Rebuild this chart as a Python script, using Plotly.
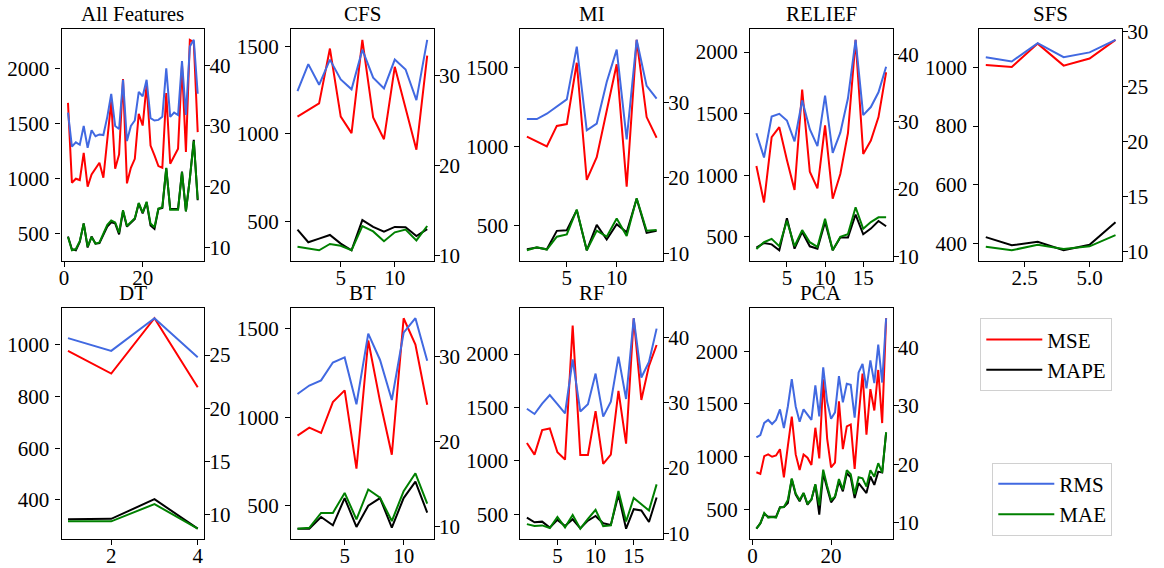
import plotly.graph_objects as go

# ---- data: per feature-selection method, metric values vs. number of features ----
titles = ["All Features", "CFS", "MI", "RELIEF", "SFS", "DT", "BT", "RF", "PCA"]

all_mse = [1686, 960, 996, 984, 1232, 923, 1035, 1087, 1141, 1005, 1330, 1700, 1087, 1217, 1903, 954, 1096,
           1177, 1586, 1480, 1852, 1298, 1208, 1111, 1096, 1776, 1132, 1196, 1270, 2030, 1240, 2260, 2240, 1420]
all_mape = [470, 355, 345, 420, 590, 370, 470, 405, 410, 490, 560, 600, 590, 490, 700, 560, 600,
            630, 770, 680, 780, 570, 540, 720, 730, 1090, 720, 720, 720, 1060, 700, 1000, 1350, 800]
all_rms = [32.2, 26.6, 27.3, 26.9, 30.0, 26.4, 29.3, 28.3, 28.6, 28.5, 31.5, 35.3, 30.0, 29.5, 37.6, 27.5, 30.0,
           30.9, 35.6, 34.9, 37.6, 31.3, 30.9, 31.0, 31.5, 39.5, 31.5, 32.2, 31.8, 40.7, 31.8, 43.1, 44.2, 35.3]
all_mae = [11.7, 9.5, 9.7, 11.0, 13.9, 10.1, 11.7, 10.6, 10.8, 12.4, 13.7, 14.4, 14.1, 12.4, 16.1, 13.5, 14.2,
           14.8, 17.3, 15.7, 17.5, 13.9, 13.3, 16.4, 16.6, 23.1, 16.2, 16.2, 16.2, 22.4, 15.9, 21.3, 27.5, 17.9]

cfs_mse = [1100, 1140, 1175, 1490, 1100, 1005, 1540, 1095, 970, 1385, 1145, 910, 1450]
cfs_mape = [452, 379, 400, 421, 371, 333, 506, 467, 440, 467, 465, 415, 454]
cfs_rms = [28.3, 31.3, 29.0, 31.8, 29.6, 28.5, 32.9, 29.8, 28.6, 31.8, 30.7, 27.3, 34.0]
cfs_mae = [11.0, 10.8, 10.6, 11.3, 11.1, 10.6, 13.3, 12.7, 11.6, 12.6, 12.9, 11.7, 13.3]

mi_mse = [1063, 1030, 1000, 1130, 1142, 1530, 788, 932, 1230, 1520, 746, 1675, 1186, 1055]
mi_mape = [349, 360, 349, 466, 470, 597, 343, 504, 411, 508, 457, 669, 453, 466]
mi_rms = [27.8, 27.8, 28.5, 29.5, 30.4, 37.4, 26.3, 27.2, 32.7, 37.0, 25.1, 38.3, 32.2, 30.5]
mi_mae = [10.4, 10.8, 10.5, 12.2, 12.5, 15.8, 10.4, 13.0, 12.2, 14.6, 12.3, 17.3, 13.0, 13.1]

relief_mse = [1076, 780, 1310, 1391, 1125, 881, 1696, 1030, 894, 1405, 810, 1011, 1342, 2100, 1174, 1283, 1473, 1837]
relief_mape = [413, 451, 440, 392, 652, 405, 541, 424, 405, 622, 392, 495, 495, 682, 522, 568, 630, 587]
relief_rms = [28.3, 24.7, 30.8, 31.2, 30.2, 27.1, 33.2, 28.9, 26.4, 33.9, 25.4, 28.4, 33.5, 42.2, 31.0, 32.2, 34.4, 38.2]
relief_mae = [11.1, 12.1, 12.6, 11.5, 15.3, 11.5, 13.9, 12.1, 11.4, 15.6, 10.9, 12.9, 13.3, 17.3, 14.1, 15.1, 15.8, 15.8]

sfs_mse = [1008, 1001, 1081, 1006, 1030, 1094]
sfs_mape = [421, 393, 405, 376, 395, 472]
sfs_rms = [27.65, 27.26, 28.92, 27.65, 28.08, 29.22]
sfs_mae = [10.48, 10.15, 10.66, 10.27, 10.51, 11.53]

dt_mse = [977, 889, 1103, 836]
dt_mape = [325, 327, 403, 289]
dt_rms = [26.6, 25.4, 28.47, 24.8]
dt_mae = [9.38, 9.38, 11.0, 8.69]

bt_mse = [896, 941, 911, 1086, 1152, 709, 1434, 1090, 788, 1560, 1411, 1071]
bt_mape = [370, 370, 436, 389, 543, 380, 500, 543, 376, 543, 636, 461]
bt_rms = [25.6, 26.6, 27.2, 29.3, 29.9, 24.4, 32.7, 29.6, 24.9, 32.8, 34.5, 29.5]
bt_mae = [9.8, 9.9, 11.65, 11.65, 14.0, 10.9, 14.4, 13.45, 10.7, 14.2, 16.3, 12.75]

rf_mse = [1168, 1059, 1288, 1303, 1081, 1012, 2267, 1055, 1055, 1466, 971, 1059, 1655, 1162, 2336, 1570, 1890, 2085]
rf_mape = [469, 425, 431, 375, 447, 390, 453, 368, 440, 484, 415, 400, 682, 365, 547, 535, 428, 657]
rf_rms = [29.1, 28.3, 29.9, 31.2, 29.8, 28.4, 36.7, 28.7, 29.8, 34.5, 27.9, 30.2, 37.1, 30.6, 43.0, 33.9, 36.3, 41.4]
rf_mae = [11.4, 11.1, 11.2, 10.8, 12.5, 10.9, 12.8, 10.7, 12.2, 13.6, 11.1, 11.2, 16.5, 11.8, 15.4, 14.5, 13.5, 17.5]

pca_mse = [853, 838, 1006, 1022, 1000, 1012, 1072, 806, 1100, 1381, 1022, 875, 1022, 991, 922, 1275, 984,
           1734, 1172, 900, 944, 1525, 1072, 1288, 1306, 884, 1375, 1788, 1209, 1641, 1438, 1822, 1319, 2312]
pca_mape = [319, 369, 459, 431, 431, 431, 522, 525, 562, 787, 641, 578, 656, 547, 594, 734, 453,
            844, 703, 569, 619, 766, 672, 844, 806, 609, 750, 703, 656, 813, 734, 859, 850, 1225]
pca_rms = [24.6, 25.0, 27.1, 27.6, 26.9, 27.6, 29.4, 26.2, 29.9, 34.6, 29.9, 27.3, 29.4, 28.6, 27.6, 33.5, 28.2,
           36.6, 30.7, 27.8, 28.9, 35.1, 30.6, 33.8, 33.6, 28.0, 35.7, 37.2, 33.0, 37.8, 33.9, 40.5, 34.0, 45.0]
pca_mae = [9.0, 9.9, 11.7, 10.9, 11.0, 10.9, 12.6, 12.7, 13.9, 17.6, 15.0, 13.9, 15.1, 13.3, 14.0, 16.6, 13.0,
           19.1, 16.3, 13.9, 14.5, 17.5, 15.7, 19.0, 18.3, 14.9, 17.8, 17.6, 16.2, 19.0, 17.9, 20.2, 18.6, 25.5]

# tick spacing per panel: (x step, left-axis step, right-axis step)
tick_steps = [(20, 500, 10), (5, 500, 10), (5, 500, 10), (5, 500, 10), (2.5, 200, 5),
              (2, 200, 5), (5, 500, 10), (5, 500, 10), (20, 500, 10)]

panels = [
    (all_mse, all_mape, all_rms, all_mae),
    (cfs_mse, cfs_mape, cfs_rms, cfs_mae),
    (mi_mse, mi_mape, mi_rms, mi_mae),
    (relief_mse, relief_mape, relief_rms, relief_mae),
    (sfs_mse, sfs_mape, sfs_rms, sfs_mae),
    (dt_mse, dt_mape, dt_rms, dt_mae),
    (bt_mse, bt_mape, bt_rms, bt_mae),
    (rf_mse, rf_mape, rf_rms, rf_mae),
    (pca_mse, pca_mape, pca_rms, pca_mae),
]

# ---- layout geometry (pixels) ----
W, H = 1164, 568
col_left = [61.5, 291.0, 520.4, 749.9, 979.3]
axes_w = 142.7
row_top = [29.3, 307.7]
axes_h = 231.5
FONT = "Liberation Serif"
FS = 21

C_MSE, C_MAPE, C_RMS, C_MAE = "red", "black", "royalblue", "green"
LW = 2.0


def padded(vals, frac=0.05):
    lo, hi = min(vals), max(vals)
    span = hi - lo
    return [lo - frac * span, hi + frac * span]


fig = go.Figure()
layout = dict(
    width=W, height=H,
    margin=dict(l=0, r=0, t=0, b=0, pad=0, autoexpand=False),
    paper_bgcolor="white", plot_bgcolor="white",
    font=dict(family=FONT, size=FS, color="black"),
    showlegend=True,
)
annotations = []

axis_common = dict(
    showgrid=False, zeroline=False, showline=True, linecolor="black", linewidth=1.1,
    ticks="outside", ticklen=5, tickwidth=1.1, tickcolor="black", automargin=False,
    tickfont=dict(family=FONT, size=FS, color="black"),
)

for k, (title, data, steps) in enumerate(zip(titles, panels, tick_steps)):
    row, col = divmod(k, 5)
    x0 = col_left[col] / W
    x1 = (col_left[col] + axes_w) / W
    y1 = 1 - row_top[row] / H
    y0 = 1 - (row_top[row] + axes_h) / H

    mse, mape, rms, mae = data
    n = len(mse)
    xs = list(range(1, n + 1))
    xstep, lstep, rstep = steps

    xa = f"xaxis{k + 1}" if k else "xaxis"
    yl = f"yaxis{2 * k + 1}" if k else "yaxis"
    yr = f"yaxis{2 * k + 2}"
    xref = f"x{k + 1}" if k else "x"
    ylref = f"y{2 * k + 1}" if k else "y"
    yrref = f"y{2 * k + 2}"

    layout[xa] = dict(axis_common, domain=[x0, x1], anchor=ylref, mirror=True,
                      range=[1 - 0.05 * (n - 1), n + 0.05 * (n - 1)],
                      tickmode="linear", tick0=0, dtick=xstep,
                      tickformat=".1f" if xstep == 2.5 else "d",
                      ticklabelstandoff=-7)
    layout[yl] = dict(axis_common, domain=[y0, y1], anchor=xref, mirror=True,
                      range=padded(mse + mape), tickmode="linear", tick0=0, dtick=lstep,
                      ticklabelstandoff=2)
    layout[yr] = dict(axis_common, overlaying=ylref, side="right", anchor=xref,
                      range=padded(rms + mae), tickmode="linear", tick0=0, dtick=rstep,
                      ticklabelstandoff=-5)

    first = k == 0
    fig.add_trace(go.Scatter(x=xs, y=mse, mode="lines", name="MSE", line=dict(color=C_MSE, width=LW),
                             xaxis=xref, yaxis=ylref, showlegend=first, legend="legend"))
    fig.add_trace(go.Scatter(x=xs, y=mape, mode="lines", name="MAPE", line=dict(color=C_MAPE, width=LW),
                             xaxis=xref, yaxis=ylref, showlegend=first, legend="legend"))
    fig.add_trace(go.Scatter(x=xs, y=rms, mode="lines", name="RMS", line=dict(color=C_RMS, width=LW),
                             xaxis=xref, yaxis=yrref, showlegend=first, legend="legend2"))
    fig.add_trace(go.Scatter(x=xs, y=mae, mode="lines", name="MAE", line=dict(color=C_MAE, width=LW),
                             xaxis=xref, yaxis=yrref, showlegend=first, legend="legend2"))

    annotations.append(dict(text=title, x=(x0 + x1) / 2, y=y1, xref="paper", yref="paper",
                            xanchor="center", yanchor="bottom", yshift=1, showarrow=False,
                            font=dict(family=FONT, size=FS, color="black")))

legend_style = dict(
    bgcolor="white", bordercolor="#d0d0d0", borderwidth=1,
    font=dict(family=FONT, size=FS, color="black"),
    xanchor="right", yanchor="top", itemwidth=56, tracegroupgap=0,
)
layout["legend"] = dict(legend_style, x=1112.3 / W, y=1 - 318.3 / H)
layout["legend2"] = dict(legend_style, x=1112.3 / W, y=1 - 462.7 / H)
layout["annotations"] = annotations

fig.update_layout(**layout)
fig.write_html("out.html")
